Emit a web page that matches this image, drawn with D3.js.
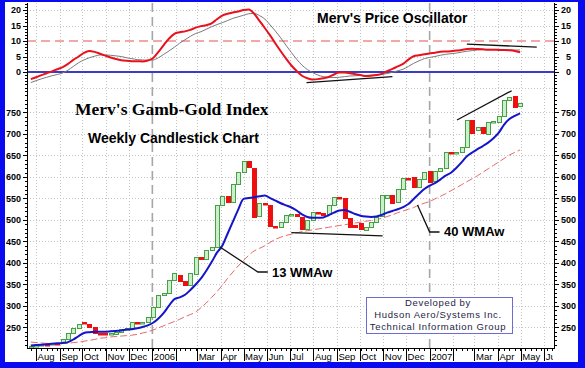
<!DOCTYPE html>
<html>
<head>
<meta charset="utf-8">
<title>Merv's Gamb-Gold Index</title>
<script src="https://cdnjs.cloudflare.com/ajax/libs/d3/7.8.5/d3.min.js"></script>
<style>
body { margin: 0; background: #fff; }
svg { display: block; font-family: Arial, "Liberation Sans", sans-serif; }
.grid line { stroke: #c4c4c4; stroke-width: 1px; stroke-dasharray: 1,2; }
.axis path, .axis line { stroke: #000; shape-rendering: crispEdges; }
.axis text { fill: #000; }
</style>
</head>
<body>
<div id="chart"></div>
<script>

// weekly candles, first bar is the week of Monday 25 Jul 2005
var firstWeek = "2005-07-25"

var opens = [205,208,210,212,211,214,214,224,237,249,
             262,259,252,237,236,233,236,240,246,249,
             263,260,263,275,298,325,330,360,372,357,
             347,376,413,408,430,438,535,556,543,584,
             612,637,622,508,539,535,486,484,496,511,
             514,508,480,500,518,517,513,535,554,551,
             504,489,492,477,484,496,508,550,558,540,
             571,598,599,576,595,614,590,614,622,659,
             658,659,670,733,710,717,702,729,729,742,
             779,788,763]

var closes = [208,210,212,211,214,213,224,237,249,259,
              259,253,237,236,233,236,240,246,249,263,
              260,263,275,298,325,330,360,376,357,347,
              376,415,408,430,438,535,556,543,584,612,
              637,622,508,539,536,485,484,496,512,514,
              509,480,500,519,516,513,535,554,551,504,
              484,485,477,484,496,508,558,557,540,571,
              597,596,576,595,612,589,614,622,659,658,
              659,670,733,702,716,702,729,730,742,779,
              787,763,771]

var wma13 = [208,209,210,211,212,213,214,216,222,230,
             237,239,240,240,240,241,242,243,245,246,
             248,251,255,261,271,284,301,316,320,326,
             337,350,364,382,402,424,440,468,496,524,
             549,551,553,555,557,551,545,539,534,529,
             522,513,507,505,505,506,511,517,522,523,
             519,514,510,508,507,508,512,517,521,525,
             530,537,549,561,572,580,586,594,603,610,
             621,634,648,657,665,672,680,690,703,722,
             735,742,748]

var wma40 = [216,215,214,213,213,212,213,213,215,216,
             218,220,222,225,226,228,229,230,231,232,
             234,237,240,244,249,254,259,264,269,275,
             280,286,296,307,320,333,348,364,379,393,
             406,418,428,434,440,448,455,460,464,467,
             470,473,475,477,479,481,483,485,487,489,
             491,493,495,497,499,501,504,508,512,517,
             521,525,529,535,539,543,549,555,561,568,
             575,582,589,596,603,611,619,627,635,643,
             651,657,663]

var oscFast = [-2.3,-1.7,-1.0,-0.4,0.2,0.9,1.6,2.6,3.9,5.0,
               6.2,6.8,6.5,5.9,5.3,4.7,4.2,3.8,3.6,3.5,
               3.5,3.4,3.7,4.5,6.5,8.7,10.8,12.3,12.8,13.1,
               13.6,14.3,14.8,15.1,15.7,17.0,18.2,18.8,19.2,19.5,
               20.0,20.2,18.8,16.5,14.2,11.8,9.2,6.7,4.3,2.1,
               0.3,-1.2,-2.0,-2.4,-2.3,-2.0,-1.6,-0.8,-0.2,-0.2,
               -0.4,-0.7,-1.0,-1.3,-1.2,-1.0,-0.6,0.3,1.0,1.8,
               2.6,4.0,5.1,5.4,5.7,6.0,6.2,6.5,6.6,6.7,
               6.9,7.1,7.4,7.5,7.4,7.3,7.2,7.2,7.1,7.1,
               7.0,6.8,6.4]

var oscSlow = [-3.4,-2.8,-2.2,-1.7,-1.2,-0.8,-0.3,0.6,1.8,3.0,
               3.9,4.6,5.1,5.5,5.5,5.4,5.2,5.0,4.6,4.3,
               4.0,3.9,3.8,3.9,4.6,5.7,6.8,8.0,9.3,10.4,
               11.5,12.4,13.0,13.8,14.6,15.3,15.9,16.6,17.3,17.8,
               18.3,18.8,18.9,18.2,17.1,15.2,13.2,11.0,8.6,6.3,
               4.1,2.2,0.8,-0.2,-1.0,-1.5,-1.7,-1.8,-1.7,-1.5,
               -1.3,-1.2,-1.1,-1.1,-1.0,-1.0,-0.8,-0.5,-0.1,0.4,
               0.9,1.8,2.8,3.6,4.3,4.7,5.0,5.4,5.7,5.9,
               6.1,6.4,6.7,6.9,7.1,7.2,7.3,7.3,7.3,7.2,
               7.1,7.1,7.1]

var mainTicks = [250,300,350,400,450,500,550,600,650,700,750]
var oscTicks = [0,5,10,15,20]
var monthNames = ["Jan","Feb","Mar","Apr","May","Jun","Jul","Aug","Sep","Oct","Nov","Dec"]

// hand drawn trend lines, [date, value]
var oscTrends = [
  [["2006-07-23",-3.45],["2006-11-13",-1.5]],
  [["2007-02-19",9.0],["2007-05-22",8.0]]
]
var mainTrends = [
  [["2006-07-03",470.5],["2006-10-31",462.8]],
  [["2007-02-06",732.6],["2007-04-19",800.7]]
]
var pointer13 = [["2006-03-31",437],["2006-05-20",379],["2006-06-02",379]]
var pointer40 = [["2006-12-16",535],["2007-01-01",472],["2007-01-14",472]]


var W = 585, H = 368
var parse = d3.timeParse("%Y-%m-%d")
var start = parse(firstWeek)
var weeks = opens.map(function(d,i){ return d3.timeDay.offset(start, 7*i) })

var x = d3.scaleTime()
  .domain([parse("2005-07-20"), parse("2007-06-15")])
  .range([27,555])

var yOsc = d3.scaleLinear().domain([-6,22]).range([90.6,3.8])
var yMain = d3.scaleLinear().domain([202,805]).range([348.1,88.85])

var svg = d3.select("#chart").append("svg")
  .attr("width", W)
  .attr("height", H)

svg.append("rect").attr("width", W).attr("height", H).attr("fill","#fff")

svg.append("clipPath").attr("id","plotclip")
  .append("rect").attr("x",27).attr("y",2).attr("width",528).attr("height",346)

var months = d3.timeMonth.range(parse("2005-08-01"), parse("2007-07-01"))

// grid
var grid = svg.append("g").attr("class","grid")

grid.selectAll(".vg").data(months.filter(function(d){ return d.getMonth() != 0 }))
  .enter().append("line")
  .attr("x1", function(d){ return Math.round(x(d))+0.5 })
  .attr("x2", function(d){ return Math.round(x(d))+0.5 })
  .attr("y1", 3).attr("y2", 348)

grid.selectAll(".hm").data(mainTicks).enter().append("line")
  .attr("x1",27).attr("x2",555)
  .attr("y1", function(d){ return Math.round(yMain(d))+0.5 })
  .attr("y2", function(d){ return Math.round(yMain(d))+0.5 })

grid.selectAll(".ho").data([-5,5,15,20]).enter().append("line")
  .attr("x1",27).attr("x2",555)
  .attr("y1", function(d){ return Math.round(yOsc(d))+0.5 })
  .attr("y2", function(d){ return Math.round(yOsc(d))+0.5 })

// year lines
svg.selectAll(".year").data(months.filter(function(d){ return d.getMonth() == 0 }))
  .enter().append("line")
  .attr("x1", function(d){ return x(d) })
  .attr("x2", function(d){ return x(d) })
  .attr("y1", 3).attr("y2", 348)
  .attr("stroke","#a6a6a6")
  .attr("stroke-width",1.6)
  .attr("stroke-dasharray","9,5")

var plotG = svg.append("g").attr("clip-path","url(#plotclip)")

// oscillator reference lines
plotG.append("line")
  .attr("x1",27).attr("x2",555)
  .attr("y1", yOsc(10)).attr("y2", yOsc(10))
  .attr("stroke","#f28a8a").attr("stroke-width",1.5)
  .attr("stroke-dasharray","9,5")

plotG.append("line")
  .attr("x1",27).attr("x2",555)
  .attr("y1", yOsc(0)).attr("y2", yOsc(0))
  .attr("stroke","#3b3bc4").attr("stroke-width",2)

var oscLine = function(vals){
  return d3.line()
    .x(function(d,i){ return x(weeks[i]) })
    .y(function(d){ return yOsc(d) })
    .curve(d3.curveMonotoneX)(vals)
}

plotG.append("path").attr("d", oscLine(oscSlow))
  .attr("fill","none").attr("stroke","#7a7a7a").attr("stroke-width",1)

plotG.append("path").attr("d", oscLine(oscFast))
  .attr("fill","none").attr("stroke","#e8121c").attr("stroke-width",2)

var mainLine = function(vals){
  return d3.line()
    .x(function(d,i){ return x(weeks[i]) })
    .y(function(d){ return yMain(d) })
    .curve(d3.curveMonotoneX)(vals)
}

// 40 week average
plotG.append("path").attr("d", mainLine(wma40))
  .attr("fill","none").attr("stroke","#e46a6a").attr("stroke-width",1)
  .attr("stroke-dasharray","7,3")

// candles
var candles = opens.map(function(o,i){ return {date: weeks[i], open: o, close: closes[i]} })
var bw = 4

plotG.selectAll(".candle").data(candles).enter().append("rect")
  .attr("x", function(d){ return Math.round(x(d.date) - bw/2) + 0.5 })
  .attr("y", function(d){ return Math.round(yMain(Math.max(d.open,d.close))) + 0.5 })
  .attr("width", bw)
  .attr("height", function(d){ return Math.max(1.5, Math.round(Math.abs(yMain(d.open) - yMain(d.close)))) })
  .attr("fill", function(d){ return d.close >= d.open ? "#cbeecb" : "#ee1010" })
  .attr("stroke", function(d){ return d.close >= d.open ? "#46a046" : "#ee1010" })
  .attr("stroke-width",1)

// 13 week average
plotG.append("path").attr("d", mainLine(wma13))
  .attr("fill","none").attr("stroke","#1414c8").attr("stroke-width",2)

// trend lines and pointers
var dline = function(scale){
  return d3.line()
    .x(function(d){ return x(parse(d[0])) })
    .y(function(d){ return scale(d[1]) })
}

oscTrends.forEach(function(t){
  svg.append("path").attr("d", dline(yOsc)(t))
    .attr("fill","none").attr("stroke","#111").attr("stroke-width",1.3)
})
mainTrends.forEach(function(t){
  svg.append("path").attr("d", dline(yMain)(t))
    .attr("fill","none").attr("stroke","#111").attr("stroke-width",1.3)
})
;[pointer13, pointer40].forEach(function(t){
  svg.append("path").attr("d", dline(yMain)(t))
    .attr("fill","none").attr("stroke","#111").attr("stroke-width",1.3)
})

// titles
svg.append("text").text("Merv's Gamb-Gold Index")
  .attr("x",75).attr("y",114.5)
  .attr("font-family","'Liberation Serif','Times New Roman',serif")
  .attr("font-weight","bold").attr("font-size",17.5)

svg.append("text").text("Weekly Candlestick Chart")
  .attr("x",88).attr("y",142.5)
  .attr("font-weight","bold").attr("font-size",14)

svg.append("text").text("Merv's Price Oscillator")
  .attr("x",317).attr("y",23)
  .attr("font-weight","bold").attr("font-size",14)

svg.append("text").text("13 WMAw")
  .attr("x",272).attr("y",276.5)
  .attr("font-weight","bold").attr("font-size",13)

svg.append("text").text("40 WMAw")
  .attr("x",444).attr("y",236)
  .attr("font-weight","bold").attr("font-size",13)

// info box
svg.append("rect")
  .attr("x",366.5).attr("y",297.5).attr("width",146).attr("height",36)
  .attr("fill","#fff").attr("stroke","#6c6cd2").attr("stroke-width",1)

var info = ["Developed by","Hudson Aero/Systems Inc.","Technical Information Group"]
svg.selectAll(".info").data(info).enter().append("text")
  .text(function(d){ return d })
  .attr("x",438).attr("y", function(d,i){ return 305.5 + i*12.3 })
  .attr("text-anchor","middle")
  .attr("font-size",9.5)
  .attr("letter-spacing",0.65)
  .attr("fill","#1e1e46")

// axes
var axL = svg.append("g").attr("class","axis").attr("transform","translate(27,0)")
axL.call(d3.axisLeft(yMain).tickValues(d3.range(210,801,10)).tickSize(2).tickFormat(""))
axL.append("g").call(d3.axisLeft(yMain).tickValues(mainTicks).tickSize(4).tickPadding(2))
axL.append("g").call(d3.axisLeft(yOsc).tickValues(d3.range(-5,23,1)).tickSize(2).tickFormat(""))
axL.append("g").call(d3.axisLeft(yOsc).tickValues(oscTicks).tickSize(4).tickPadding(2))
axL.selectAll(".domain").remove()
axL.append("line").attr("x1",0.5).attr("x2",0.5).attr("y1",3).attr("y2",348)

var axR = svg.append("g").attr("class","axis").attr("transform","translate(555,0)")
axR.call(d3.axisRight(yMain).tickValues(d3.range(210,801,10)).tickSize(2).tickFormat(""))
axR.append("g").call(d3.axisRight(yMain).tickValues(mainTicks).tickSize(4).tickPadding(2))
axR.append("g").call(d3.axisRight(yOsc).tickValues(d3.range(-5,23,1)).tickSize(2).tickFormat(""))
axR.append("g").attr("class","oscR")
  .call(d3.axisRight(yOsc).tickValues(oscTicks).tickSize(4))
axR.selectAll(".oscR text").attr("text-anchor","end").attr("x",16)
axR.selectAll(".domain").remove()
axR.append("line").attr("x1",-0.5).attr("x2",-0.5).attr("y1",3).attr("y2",348)

svg.selectAll(".axis text")
  .attr("font-size",9).attr("font-weight","bold")
  .attr("font-family","Arial, 'Liberation Sans', sans-serif")

// time axis
var axB = svg.append("g").attr("class","axis").attr("transform","translate(0,348)")
axB.call(d3.axisBottom(x).tickValues(d3.timeMonday.range(x.domain()[0], x.domain()[1])).tickSize(3).tickFormat(""))
axB.selectAll(".domain").remove()
axB.append("line").attr("x1",27).attr("x2",555).attr("y1",0.5).attr("y2",0.5).attr("stroke","#000")

axB.selectAll(".mtick").data(months).enter().append("line")
  .attr("x1", function(d){ return Math.round(x(d))+0.5 })
  .attr("x2", function(d){ return Math.round(x(d))+0.5 })
  .attr("y1",0).attr("y2",13).attr("stroke","#000")

svg.append("clipPath").attr("id","labclip")
  .append("rect").attr("x",27).attr("y",348).attr("width",526).attr("height",16)

svg.append("g").attr("clip-path","url(#labclip)")
  .selectAll(".mlab").data(months).enter().append("text")
  .text(function(d){
    if (d.getMonth() == 0) return d.getFullYear()
    if (d.getMonth() == 1) return ""
    return monthNames[d.getMonth()]
  })
  .attr("x", function(d){ return x(d) + 1.5 })
  .attr("y", 359.5)
  .attr("font-size",9.5)
  .attr("fill","#000")

// blue frame
svg.append("rect").attr("x",0).attr("y",0).attr("width",5).attr("height",H).attr("fill","#0a0af0")
svg.append("rect").attr("x",578).attr("y",0).attr("width",7).attr("height",H).attr("fill","#0a0af0")
svg.append("rect").attr("x",0).attr("y",362).attr("width",W).attr("height",6).attr("fill","#0a0af0")
svg.append("rect").attr("x",0).attr("y",0).attr("width",W).attr("height",2).attr("fill","#0a0af0")

</script>
</body>
</html>
